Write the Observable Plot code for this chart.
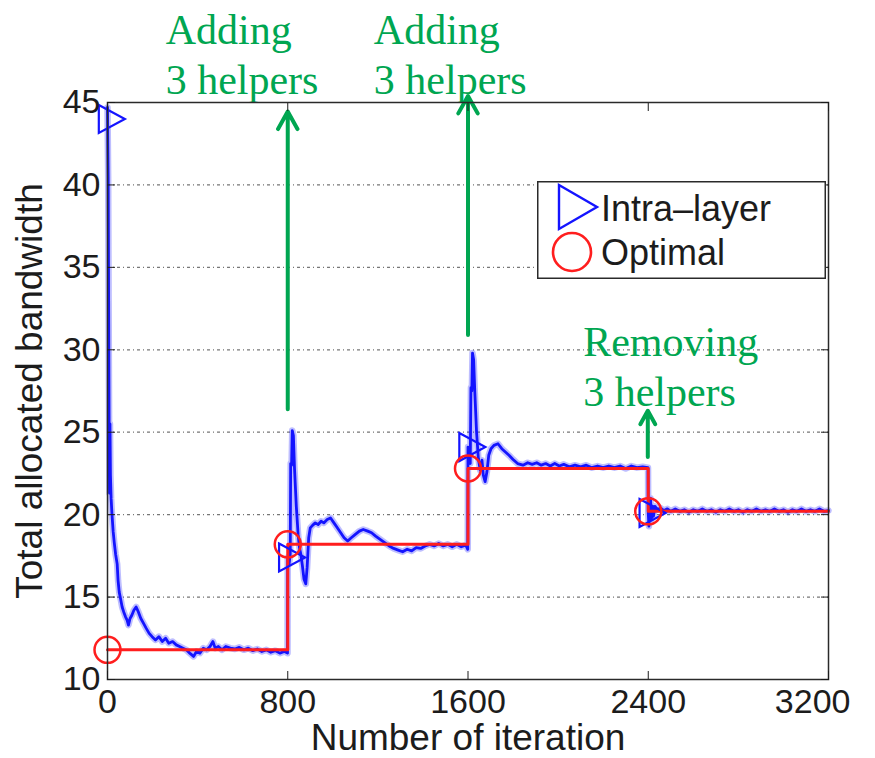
<!DOCTYPE html>
<html>
<head>
<meta charset="utf-8">
<script src="https://cdn.jsdelivr.net/npm/d3@7"></script>
<script src="https://cdn.jsdelivr.net/npm/@observablehq/plot@0.6"></script>
<style>
  body { margin: 0; background: #fff; }
  #chart { position: relative; width: 875px; height: 758px; }
  #legend { position: absolute; left: 537px; top: 181px; width: 289px; height: 98px; }
</style>
</head>
<body>
<div id="chart"></div>
<script>
// Axis ticks
const iterTicks = [0, 800, 1600, 2400, 3200];
const bwTicks = [10, 15, 20, 25, 30, 35, 40, 45];
const gridLevels = [15, 20, 25, 30, 35, 40];

// Intra-layer allocation: [iteration, total bandwidth]
const intraLayer = [
  [0,44.7],[3,40.5],[5,33],[7,26],[9,21.3],[11,25.5],[13,22.4],[16,21.0],[20,20.0],[25,19.0],
  [30,18.3],[36,17.6],[43,17.0],[47,16.0],[52,15.3],[58,14.9],[65,14.4],[72,14.1],[80,13.8],[87,13.6],
  [93,13.3],[100,13.7],[108,13.9],[117,14.2],[127,14.4],[137,14.1],[148,13.7],[160,13.4],[172,13.1],[185,12.8],
  [198,12.6],[213,12.4],[228,12.6],[243,12.3],[258,12.5],[272,12.2],[289,12.3],[305,12.1],[320,12.0],[335,11.9],
  [350,11.8],[365,11.6],[382,11.4],[395,11.7],[410,11.6],[425,11.9],[440,11.8],[455,12.0],[468,12.3],[478,11.9],
  [492,12.0],[508,11.8],[525,12.0],[545,11.9],[565,11.85],[585,11.95],[605,11.8],[625,11.9],[645,11.75],[665,11.85],
  [685,11.7],[705,11.8],[725,11.65],[745,11.75],[765,11.6],[785,11.7],[799,11.6],
  [800,17.4],[806,17.0],[811,17.6],[813,23.1],[817,23.0],[820,25.1],[825,24.8],[830,22.8],[838,20.5],[846,18.8],
  [852,18.0],[858,17.6],[865,16.9],[872,16.1],[880,15.8],[886,16.8],[893,18.6],[900,19.2],[910,19.35],[922,19.5],
  [935,19.4],[948,19.6],[960,19.5],[975,19.7],[990,19.8],[1005,19.5],[1020,19.2],[1035,18.9],[1050,18.6],[1066,18.4],
  [1082,18.6],[1100,18.8],[1118,19.0],[1135,19.1],[1155,19.0],[1172,18.9],[1190,18.7],[1210,18.5],[1230,18.3],[1250,18.1],
  [1270,17.95],[1290,17.85],[1310,17.75],[1330,17.9],[1350,17.8],[1370,18.0],[1390,17.95],[1410,18.1],[1430,18.2],[1450,18.1],
  [1470,18.25],[1490,18.1],[1510,18.2],[1530,18.05],[1550,18.2],[1570,18.05],[1590,18.15],[1599,17.9],
  [1600,24.1],[1605,23.3],[1610,23.1],[1613,27.7],[1617,27.5],[1620,29.8],[1625,29.4],[1630,27.5],[1638,25.0],[1646,23.4],
  [1654,22.7],[1662,23.3],[1668,22.4],[1676,22.0],[1684,22.6],[1692,23.6],[1702,24.0],[1715,24.2],[1733,24.3],[1750,24.0],
  [1766,23.8],[1782,23.6],[1800,23.35],[1820,23.1],[1844,23.0],[1865,23.15],[1885,23.05],[1905,23.15],[1925,23.0],[1945,23.1],
  [1965,22.95],[1985,23.1],[2005,22.95],[2025,23.05],[2050,22.9],[2075,23.0],[2100,22.9],[2125,23.0],[2150,22.85],[2175,22.95],
  [2200,22.85],[2225,22.95],[2250,22.85],[2275,22.95],[2300,22.8],[2325,22.95],[2350,22.85],[2375,22.9],[2399,22.85],
  [2400,20.1],[2403,19.3],[2406,20.9],[2410,21.0],[2414,19.7],[2418,20.5],[2423,19.9],[2430,20.5],[2440,20.3],[2455,20.4],
  [2470,20.25],[2485,20.35],[2500,20.2],[2520,20.35],[2540,20.2],[2560,20.3],[2580,20.15],[2600,20.3],[2620,20.2],[2640,20.35],
  [2660,20.2],[2680,20.3],[2700,20.15],[2720,20.3],[2740,20.2],[2760,20.35],[2780,20.2],[2800,20.3],[2820,20.15],[2840,20.3],
  [2860,20.2],[2880,20.35],[2900,20.2],[2920,20.3],[2940,20.2],[2960,20.35],[2980,20.2],[3000,20.3],[3020,20.15],[3040,20.3],
  [3060,20.2],[3080,20.35],[3100,20.2],[3120,20.3],[3140,20.2],[3160,20.35],[3180,20.2],[3200,20.25]
];

// Optimal allocation (piecewise constant)
const optIter = [0, 800, 1600, 2400, 3200];
const optBw = [11.8, 18.2, 22.8, 20.2, 20.2];

// Marker positions on each curve
const intraMarkIter = [0, 800, 1600, 2400];
const intraMarkBw = [44.0, 17.4, 24.1, 20.1];
const optMarkIter = [0, 800, 1600, 2400];
const optMarkBw = [11.8, 18.2, 22.8, 20.2];

// Helper events
const eventIter = [800, 1600, 2398];
const eventFrom = [26.4, 30.9, 23.5];
const eventTo = [44.45, 45.4, 26.3];
const noteText = ["Adding\n3 helpers", "Adding\n3 helpers", "Removing\n3 helpers"];
const noteIter = [258, 1182, 2111];
const noteBw = [48.0, 48.0, 29.1];

const optimal = optIter.map((x, i) => ({x, y: optBw[i]}));
const intraMarks = intraMarkIter.map((x, i) => ({x, y: intraMarkBw[i]}));
const optMarks = optMarkIter.map((x, i) => ({x, y: optMarkBw[i]}));
const events = eventIter.map((x, i) => ({x, y1: eventFrom[i], y2: eventTo[i]}));
const notes = noteText.map((t, i) => ({t, x: noteIter[i], y: noteBw[i]}));

const BLUE = "#1414ff";
const RED = "#ff1e1e";
const GREEN = "#00a651";
const INK = "#1c1c1c";
const SANS = "'Liberation Sans', Arial, Helvetica, sans-serif";
const SERIF = "'Liberation Serif', 'Times New Roman', serif";

// Right-pointing triangle centred on its centroid
const triangleRight = {
  draw(context, size) {
    const r = Math.sqrt(size / Math.PI);
    context.moveTo(-0.62 * r, -r);
    context.lineTo(1.24 * r, 0);
    context.lineTo(-0.62 * r, r);
    context.closePath();
  }
};

const chart = Plot.plot({
  width: 875,
  height: 758,
  marginLeft: 107,
  marginRight: 47,
  marginTop: 102,
  marginBottom: 79,
  style: {fontFamily: SANS, color: INK, background: "#fff"},
  x: {domain: [0, 3200]},
  y: {domain: [10, 45]},
  marks: [
    Plot.ruleY(gridLevels, {stroke: "#777", strokeWidth: 1.3, strokeDasharray: "3,3,1,3"}),
    Plot.line(intraLayer, {x: d => d[0], y: d => d[1], stroke: BLUE, strokeWidth: 6.5, strokeOpacity: 0.28}),
    Plot.line(intraLayer, {x: d => d[0], y: d => d[1], stroke: BLUE, strokeWidth: 2.8}),
    Plot.line(optimal, {x: "x", y: "y", curve: "step-after", stroke: RED, strokeWidth: 3}),
    Plot.dot(intraMarks, {x: "x", y: "y", r: 14, symbol: triangleRight, stroke: BLUE, strokeWidth: 2.2, fill: "none"}),
    Plot.dot(optMarks, {x: "x", y: "y", r: 13, stroke: RED, strokeWidth: 2.5, fill: "none"}),
    Plot.arrow(events, {x: "x", y1: "y1", y2: "y2", stroke: GREEN, strokeWidth: 4, headLength: 7.5, headAngle: 58}),
    Plot.text(notes, {x: "x", y: "y", text: "t", textAnchor: "start", lineAnchor: "middle", lineHeight: 1.19,
      fontSize: 42, fontFamily: SERIF, fill: GREEN}),
    Plot.frame({stroke: "#2a2a2a", strokeWidth: 1.5}),
    Plot.axisY({ticks: bwTicks, tickSize: -8, tickPadding: 15, fontSize: 34, label: null, color: INK}),
    Plot.axisY({anchor: "right", ticks: bwTicks, tickSize: -8, tickFormat: () => "", label: null, color: INK}),
    Plot.axisX({ticks: iterTicks, tickSize: -8, tickPadding: 17, fontSize: 34, label: null, color: INK,
      tickFormat: d => (d === 3200 ? "" : String(d))}),
    Plot.text([3200], {x: d => d, frameAnchor: "bottom", text: d => String(d), textAnchor: "end",
      lineAnchor: "top", dx: 22, dy: 9, fontSize: 34, fill: INK}),
    Plot.axisX({anchor: "top", ticks: iterTicks, tickSize: -8, tickFormat: () => "", label: null, color: INK}),
    Plot.text(["Number of iteration"], {frameAnchor: "bottom", text: d => d, textAnchor: "middle", lineAnchor: "middle",
      dy: 59, fontSize: 37, fill: INK}),
    Plot.text(["Total allocated bandwidth"], {frameAnchor: "left", text: d => d, textAnchor: "middle", lineAnchor: "middle",
      rotate: -90, dx: -77, fontSize: 37, fill: INK})
  ]
});

const host = document.getElementById("chart");
host.appendChild(chart);

// Legend box inside the axes
const legend = document.createElement("div");
legend.id = "legend";
legend.innerHTML = `
<svg width="289" height="98" style="font-family:${SANS};font-size:36px">
  <rect x="0.75" y="0.75" width="287.5" height="96.5" fill="#fff" stroke="#2a2a2a" stroke-width="1.5"/>
  <path d="M22,4 L60,26 L22,48 Z" fill="none" stroke="${BLUE}" stroke-width="2.4"/>
  <circle cx="35" cy="71" r="19" fill="none" stroke="${RED}" stroke-width="2.6"/>
  <text x="64" y="40" fill="${INK}">Intra–layer</text>
  <text x="64" y="84" fill="${INK}">Optimal</text>
</svg>`;
host.appendChild(legend);
</script>
</body>
</html>
